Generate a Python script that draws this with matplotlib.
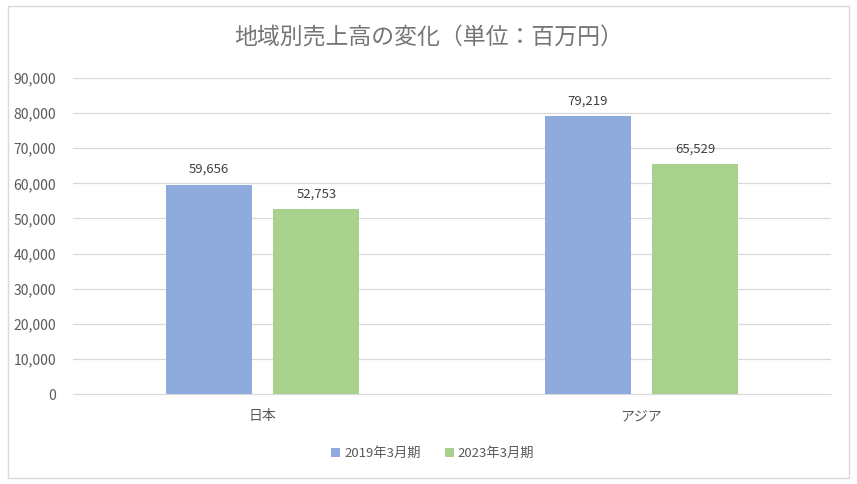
import numpy as np
import matplotlib.pyplot as plt
from matplotlib.patches import Rectangle
from matplotlib.ticker import FuncFormatter

plt.rcParams['font.family'] = ['Noto Sans CJK JP', 'DejaVu Sans']

# data
regions = ["日本", "アジア"]
series_names = ["2019年3月期", "2023年3月期"]
sales_2019 = [59656, 79219]
sales_2023 = [52753, 65529]
colors = ["#8FAADC", "#A9D18E"]

text_color = "#595959"
grid_color = "#D9D9D9"

fig = plt.figure(figsize=(8.57, 4.84), dpi=100)
fig.patches.append(Rectangle((8 / 857, 6 / 484), 841 / 857, 472 / 484,
                             transform=fig.transFigure, fill=False,
                             edgecolor="#D9D9D9", linewidth=1))
ax = fig.add_axes([73 / 857, 90 / 484, 758 / 857, 316 / 484])

x = np.arange(len(regions))
width = 0.227
offset = 0.142
for vals, name, color, sign in zip([sales_2019, sales_2023], series_names, colors, [-1, 1]):
    bars = ax.bar(x + sign * offset, vals, width, color=color, label=name, zorder=3)
    for b, v in zip(bars, vals):
        ax.text(b.get_x() + b.get_width() / 2, v + 2400, f"{v:,}",
                ha="center", va="bottom", fontsize=9.5, color="#404040")

ax.set_xlim(-0.5, 1.5)
ax.set_ylim(0, 90000)
ax.set_yticks(np.arange(0, 90001, 10000))
ax.yaxis.set_major_formatter(FuncFormatter(lambda v, p: f"{int(v):,}"))
ax.set_xticks(x)
ax.set_xticklabels(regions)
ax.grid(axis="y", color=grid_color, linewidth=0.9, zorder=0)
for s in ["top", "right", "left"]:
    ax.spines[s].set_visible(False)
ax.spines["bottom"].set_color(grid_color)
ax.tick_params(axis="both", length=0, labelsize=10, labelcolor=text_color)
ax.tick_params(axis="y", pad=12)
ax.tick_params(axis="x", pad=11)

fig.text(0.5, 0.921, "地域別売上高の変化（単位：百万円）", ha="center", va="center",
         fontsize=16.5, color="#757575")

fig.legend(loc="center", bbox_to_anchor=(0.505, 0.063), ncol=2, frameon=False,
           fontsize=9.5, labelcolor=text_color, handlelength=0.7, handleheight=0.7,
           handletextpad=0.3, columnspacing=1.8)

fig.savefig("out.png", dpi=100)
